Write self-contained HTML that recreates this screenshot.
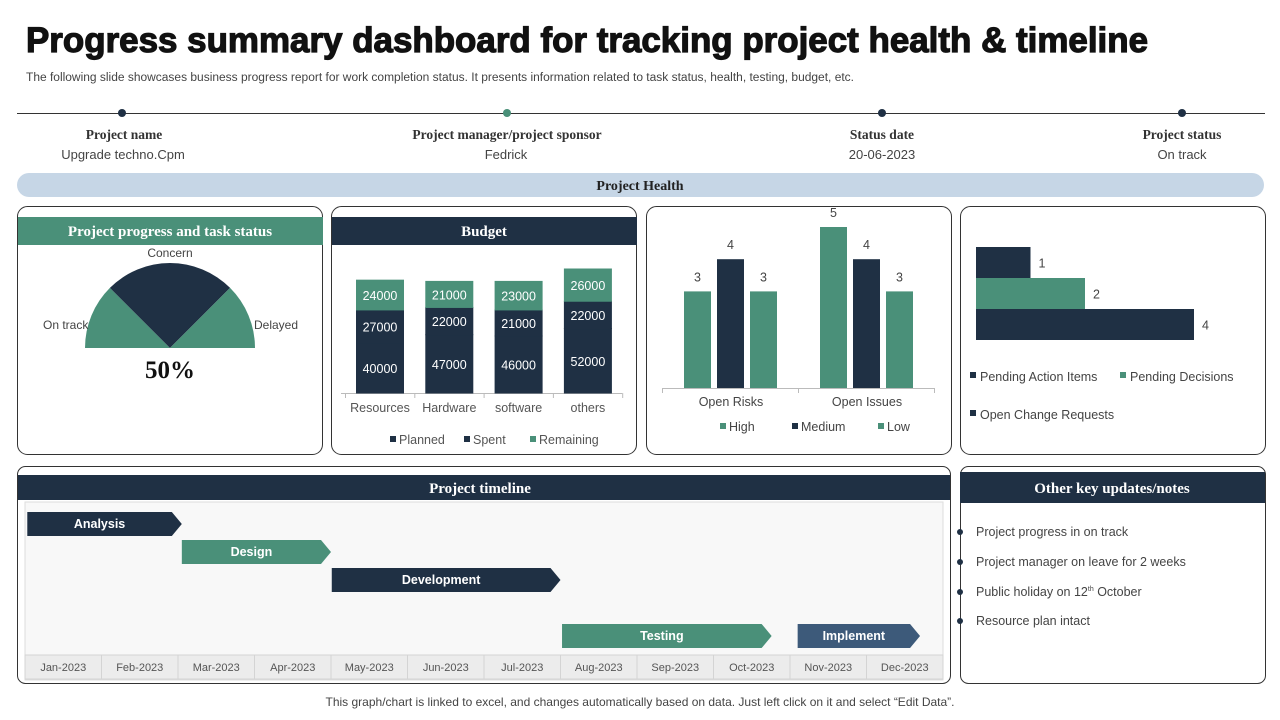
<!DOCTYPE html>
<html><head><meta charset="utf-8"><style>
html,body{margin:0;padding:0;background:#fff;}
svg{display:block;font-family:"Liberation Sans",Arial,sans-serif;}
.hd{font-family:"Liberation Serif",serif;font-weight:bold;fill:#fff;font-size:15px;}
.lbl{fill:#444;font-size:12px;}
</style></head><body>
<svg id="s" width="1280" height="720" viewBox="0 0 1280 720">
<text x="26" y="52" font-size="35" font-weight="bold" fill="#111" stroke="#111" stroke-width="1.2" textLength="1122" lengthAdjust="spacingAndGlyphs">Progress summary dashboard for tracking project health &amp; timeline</text>
<text x="26" y="81" font-size="11.5" fill="#444" textLength="828" lengthAdjust="spacingAndGlyphs">The following slide showcases business progress report for work completion status. It presents information related to task status, health, testing, budget, etc.</text>
<line x1="17" y1="113.5" x2="1265" y2="113.5" stroke="#333" stroke-width="1"/>
<circle cx="122" cy="113" r="4" fill="#1f3044"/><circle cx="507" cy="113" r="4" fill="#4a9079"/><circle cx="882" cy="113" r="4" fill="#1f3044"/><circle cx="1182" cy="113" r="4" fill="#1f3044"/>
<g font-family="Liberation Serif,serif" font-weight="bold" font-size="13.5" fill="#333" text-anchor="middle">
<text x="124" y="139">Project name</text>
<text x="507" y="139">Project manager/project sponsor</text>
<text x="882" y="139">Status date</text>
<text x="1182" y="139">Project status</text>
</g>
<g font-size="13" fill="#444" text-anchor="middle">
<text x="123" y="159">Upgrade  techno.Cpm</text>
<text x="506" y="159">Fedrick</text>
<text x="882" y="159">20-06-2023</text>
<text x="1182" y="159">On track</text>
</g>
<rect x="17" y="173" width="1247" height="24" rx="12" fill="#c6d6e6"/>
<text x="640" y="190" text-anchor="middle" font-family="Liberation Serif,serif" font-weight="bold" font-size="14" fill="#222">Project Health</text>

<g fill="none" stroke="#333" stroke-width="1">
<rect x="17.5" y="206.5" width="305" height="248" rx="10"/>
<rect x="331.5" y="206.5" width="305" height="248" rx="10"/>
<rect x="646.5" y="206.5" width="305" height="248" rx="10"/>
<rect x="960.5" y="206.5" width="305" height="248" rx="10"/>
<rect x="17.5" y="466.5" width="933" height="217" rx="8"/>
<rect x="960.5" y="466.5" width="305" height="217" rx="8"/>
</g>
<rect x="18" y="217" width="305" height="28" fill="#4a9079"/>
<text x="170" y="236" text-anchor="middle" class="hd">Project progress and task status</text>
<rect x="332" y="217" width="305" height="28" fill="#1f3044"/>
<text x="484" y="236" text-anchor="middle" class="hd">Budget</text>

<g id="gauge"></g>
<text x="170" y="257" text-anchor="middle" class="lbl">Concern</text>
<text x="43" y="329" class="lbl">On track</text>
<text x="254" y="329" class="lbl">Delayed</text>
<text x="170" y="378" text-anchor="middle" font-family="Liberation Serif,serif" font-weight="bold" font-size="25" fill="#111">50%</text>

<g id="budget"></g>
<g id="risks"></g>
<g id="pending"></g>

<rect x="18" y="475" width="932" height="25" fill="#1f3044"/>
<text x="480" y="493" text-anchor="middle" class="hd">Project timeline</text>
<rect x="25" y="502" width="918" height="178" fill="#f8f8f8" stroke="#ddd"/>
<g id="gantt"></g>

<rect x="960" y="472" width="305" height="31" fill="#1f3044"/>
<text x="1112" y="493" text-anchor="middle" class="hd">Other key updates/notes</text>
<g font-size="12.5" fill="#444">
<circle cx="960" cy="532" r="3" fill="#1f3044"/><text x="976" y="536">Project progress in on track</text>
<circle cx="960" cy="562" r="3" fill="#1f3044"/><text x="976" y="566">Project manager on leave for 2 weeks</text>
<circle cx="960" cy="592" r="3" fill="#1f3044"/><text x="976" y="596">Public holiday on 12<tspan font-size="7" dy="-5">th</tspan><tspan dy="5"> October</tspan></text>
<circle cx="960" cy="621" r="3" fill="#1f3044"/><text x="976" y="625">Resource plan intact</text>
</g>
<text x="640" y="706" text-anchor="middle" font-size="12" fill="#444">This graph/chart is linked to excel,  and changes automatically based on data. Just left click on it and select “Edit Data”.</text>
</svg>
<script>
const NS='http://www.w3.org/2000/svg';
const DARK='#1f3044',GREEN='#4a9079';
function mk(p,tag,a,t){const e=document.createElementNS(NS,tag);for(const k in a)e.setAttribute(k,a[k]);if(t!==undefined)e.textContent=t;p.appendChild(e);return e;}

const gaugeLabels=['On track','Concern','Delayed'];
const gaugeShares=[25,50,25];
const budgetCats=['Resources','Hardware','software','others'];
const budgetPlanned=[40000,47000,46000,52000];
const budgetSpent=[27000,22000,21000,22000];
const budgetRemaining=[24000,21000,23000,26000];
const riskCats=['Open Risks','Open Issues'];
const riskHigh=[3,5];
const riskMedium=[4,4];
const riskLow=[3,3];
const pendingCats=['Pending Action Items','Pending Decisions','Open Change Requests'];
const pendingValues=[1,2,4];
const months=['Jan-2023','Feb-2023','Mar-2023','Apr-2023','May-2023','Jun-2023','Jul-2023','Aug-2023','Sep-2023','Oct-2023','Nov-2023','Dec-2023'];
const taskNames=['Analysis','Design','Development','Testing','Implement'];
const taskStart=[0.03,2.05,4.01,7.02,10.1];
const taskEnd=[2.05,4.0,7.0,9.76,11.7];
const taskRow=[0,1,2,4,4];

(function(){
  const g=document.getElementById('gauge');const cx=170,cy=348,r=85;
  const tot=gaugeShares.reduce((a,b)=>a+b,0);let a0=Math.PI;
  const cols=[GREEN,DARK,GREEN];
  gaugeShares.forEach((v,i)=>{
    const a1=a0-Math.PI*v/tot;
    const x0=cx+r*Math.cos(a0),y0=cy-r*Math.sin(a0),x1=cx+r*Math.cos(a1),y1=cy-r*Math.sin(a1);
    const p=mk(g,'path',{d:`M${cx},${cy}L${x0},${y0}A${r},${r} 0 0 1 ${x1},${y1}Z`,fill:cols[i]});
    
    
    a0=a1;
  });
})();

(function(){
  const g=document.getElementById('budget');const base=393,k=124/100000;
  const cx=c=>380+c*69.3,w=48;
  mk(g,'line',{x1:341,y1:base+0.5,x2:622,y2:base+0.5,stroke:'#bbb'});
  for(let i=0;i<=4;i++)mk(g,'line',{x1:345.5+i*69.3,y1:base,x2:345.5+i*69.3,y2:base+5,stroke:'#bbb'});
  budgetCats.forEach((c,i)=>{
    let y=base;
    [[budgetPlanned,DARK,'planned'],[budgetSpent,DARK,'spent'],[budgetRemaining,GREEN,'remaining']].forEach(([arr,col,n])=>{
      const h=arr[i]*k;y-=h;
      const r=mk(g,'rect',{x:cx(i)-w/2,y:y-0.5,width:w,height:h+1,fill:col});
      
      
      mk(g,'text',{x:cx(i),y:y+h/2+5,'text-anchor':'middle','font-size':12.5,fill:'#fff'},arr[i]);
    });
    mk(g,'text',{x:cx(i),y:412,'text-anchor':'middle','font-size':12.5,fill:'#555'},c);
  });
  [['Planned',390,DARK],['Spent',464,DARK],['Remaining',530,GREEN]].forEach(([t,x,c])=>{
    mk(g,'rect',{x:x,y:436,width:6,height:6,fill:c});
    mk(g,'text',{x:x+9,y:444,'font-size':12.5,fill:'#555'},t);
  });
})();

(function(){
  const g=document.getElementById('risks');const base=388,k=32.2,w=27;
  mk(g,'line',{x1:662,y1:base+0.5,x2:934,y2:base+0.5,stroke:'#bbb'});
  [662,798,934].forEach(x=>mk(g,'line',{x1:x+0.5,y1:base,x2:x+0.5,y2:base+5,stroke:'#bbb'}));
  riskCats.forEach((c,i)=>{
    const x0=684+i*136;
    [[riskHigh,GREEN,'high'],[riskMedium,DARK,'medium'],[riskLow,GREEN,'low']].forEach(([arr,col,n],j)=>{
      const h=arr[i]*k,x=x0+j*33;
      const r=mk(g,'rect',{x:x,y:base-h,width:w,height:h,fill:col});
      
      
      mk(g,'text',{x:x+w/2,y:base-h-10,'text-anchor':'middle','font-size':12.5,fill:'#444'},arr[i]);
    });
    mk(g,'text',{x:x0+47,y:406,'text-anchor':'middle','font-size':12.5,fill:'#444'},c);
  });
  [['High',720,GREEN],['Medium',792,DARK],['Low',878,GREEN]].forEach(([t,x,c])=>{
    mk(g,'rect',{x:x,y:423,width:6,height:6,fill:c});
    mk(g,'text',{x:x+9,y:431,'font-size':12.5,fill:'#444'},t);
  });
})();

(function(){
  const g=document.getElementById('pending');const x0=976,k=54.5,h=31;const cols=[DARK,GREEN,DARK];
  pendingCats.forEach((c,i)=>{
    const y=247+i*h,w=pendingValues[i]*k;
    const r=mk(g,'rect',{x:x0,y:y,width:w,height:h,fill:cols[i]});
    
    
    mk(g,'text',{x:x0+w+8,y:y+h/2+5,'font-size':12.5,fill:'#444'},pendingValues[i]);
  });
  [[0,970,376],[1,1120,376],[2,970,414]].forEach(([i,x,y])=>{
    mk(g,'rect',{x:x,y:y-4,width:6,height:6,fill:cols[i]});
    mk(g,'text',{x:x+10,y:y+5,'font-size':12.5,fill:'#444'},pendingCats[i]);
  });
})();

(function(){
  const g=document.getElementById('gantt');const left=25,cw=918/12;const X=m=>left+m*cw;
  months.forEach((m,i)=>{
    mk(g,'rect',{x:X(i),y:655,width:cw,height:24,fill:'#ececec',stroke:'#d4d4d4'});
    const t=mk(g,'text',{x:X(i)+cw/2,y:671,'text-anchor':'middle','font-size':11,fill:'#555'},m);
    
    
  });
  const cols=[DARK,GREEN,DARK,GREEN,'#3d5a7a'];
  taskNames.forEach((n,i)=>{
    const x1=X(taskStart[i]),x2=X(taskEnd[i]),y=512+taskRow[i]*28,h=24,tip=10;
    const p=mk(g,'path',{d:`M${x1},${y}L${x2-tip},${y}L${x2},${y+h/2}L${x2-tip},${y+h}L${x1},${y+h}Z`,fill:cols[i]});
    
    
    mk(g,'text',{x:(x1+x2-tip)/2,y:y+16,'text-anchor':'middle','font-size':12.5,'font-weight':'bold',fill:'#fff'},n);
  });
})();
</script>
</body></html>
